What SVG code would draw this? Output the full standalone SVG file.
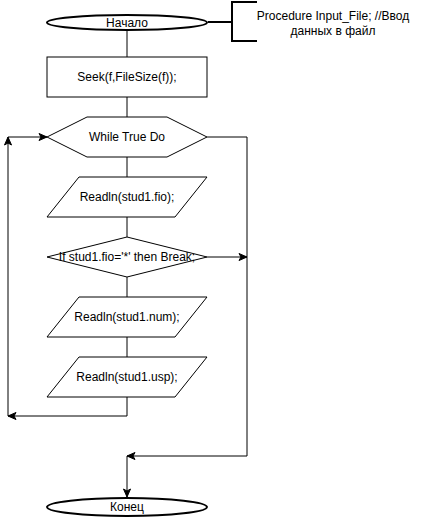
<svg xmlns="http://www.w3.org/2000/svg" width="428" height="517" viewBox="0 0 428 517">
<defs>
<marker id="arr" markerUnits="userSpaceOnUse" markerWidth="10" markerHeight="10" viewBox="0 0 10 10" refX="9" refY="5" orient="auto">
<path d="M1,1.5 L9,5 L1,8.5 L3,5 Z" fill="#000" stroke="#000" stroke-width="1"/>
</marker>
<style>
.s{fill:#fff;stroke:#000;stroke-width:1}
.t{fill:#fff;stroke:#000;stroke-width:2}
.l{fill:none;stroke:#000;stroke-width:1}
.b{fill:none;stroke:#000;stroke-width:2}
text{font-family:"Liberation Sans",Arial,sans-serif;font-size:12px;fill:#000;text-anchor:middle}
</style>
</defs>
<rect width="428" height="517" fill="#fff"/>
<g id="connectors">
<path class="l" d="M127,30 V57"/>
<path class="l" d="M127,97 V117"/>
<path class="l" d="M127,157 V177"/>
<path class="l" d="M127,217 V237"/>
<path class="l" d="M127,277 V297"/>
<path class="l" d="M127,337 V357"/>
<path class="l" d="M127,397 V416 H8" marker-end="url(#arr)"/>
<path class="l" d="M8,416 V137" marker-end="url(#arr)"/>
<path class="l" d="M8,137 H47" marker-end="url(#arr)"/>
<path class="l" d="M207,257 H247" marker-end="url(#arr)"/>
<path class="l" d="M207,137 H247 V456 H127" marker-end="url(#arr)"/>
<path class="l" d="M127,456 V497" marker-end="url(#arr)"/>
</g>
<g id="start">
<ellipse class="t" cx="127" cy="22.5" rx="80" ry="7.5"/>
<text x="127" y="26.5">Начало</text>
</g>
<g id="comment">
<path class="b" d="M208,22 H232 M257,2 H232 V41 H257"/>
<text x="333" y="20">Procedure Input_File; //Ввод</text>
<text x="333" y="35">данных в файл</text>
</g>
<g id="seek">
<rect class="s" x="47" y="57" width="160" height="40"/>
<text x="127" y="81">Seek(f,FileSize(f));</text>
</g>
<g id="while">
<polygon class="s" points="47,137 87,117 167,117 207,137 167,157 87,157"/>
<text x="127" y="141">While True Do</text>
</g>
<g id="readfio">
<polygon class="s" points="79,177 207,177 175,217 47,217"/>
<text x="127" y="201">Readln(stud1.fio);</text>
</g>
<g id="ifbreak">
<polygon class="s" points="127,237 207,257 127,277 47,257"/>
<text x="127" y="261">If stud1.fio='*' then Break;</text>
</g>
<g id="readnum">
<polygon class="s" points="79,297 207,297 175,337 47,337"/>
<text x="127" y="321">Readln(stud1.num);</text>
</g>
<g id="readusp">
<polygon class="s" points="79,357 207,357 175,397 47,397"/>
<text x="127" y="381">Readln(stud1.usp);</text>
</g>
<g id="end">
<ellipse class="t" cx="127" cy="507" rx="80" ry="9"/>
<text x="127" y="511">Конец</text>
</g>
</svg>
